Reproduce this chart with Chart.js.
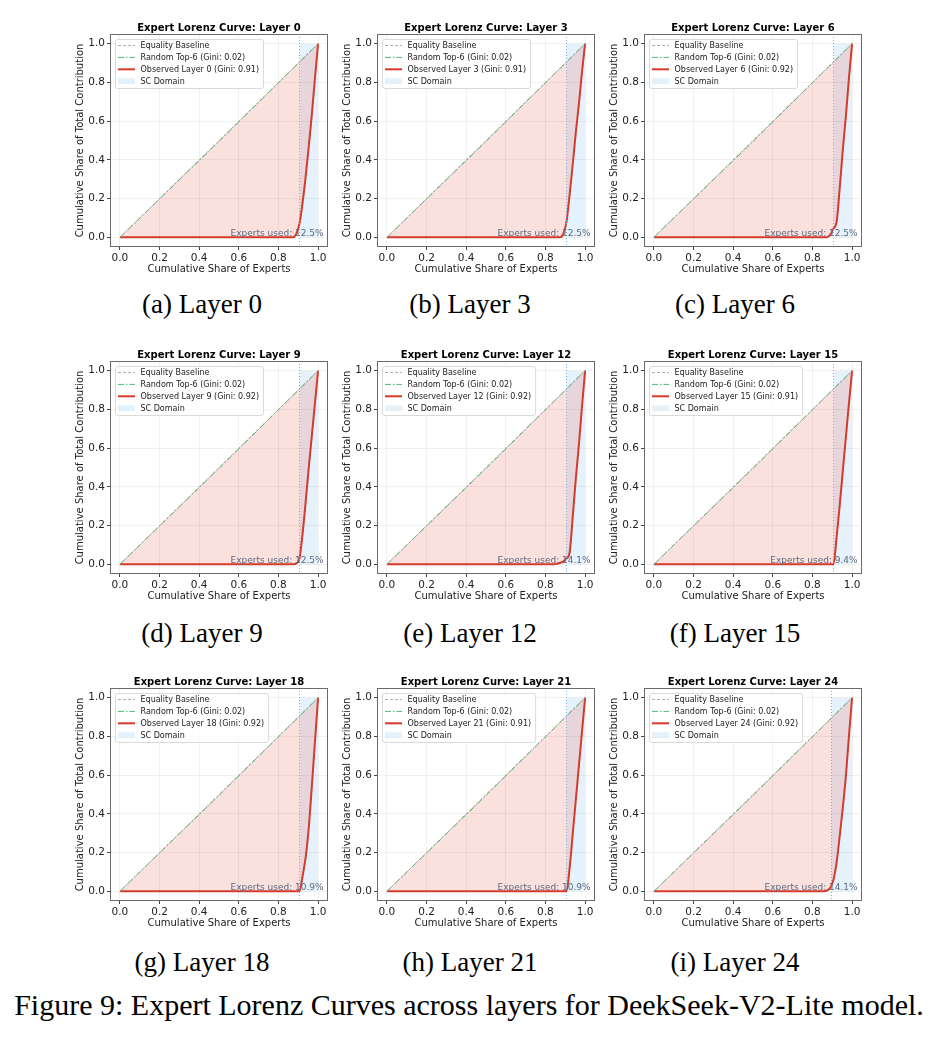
<!DOCTYPE html>
<html>
<head>
<meta charset="utf-8">
<script src="https://cdn.jsdelivr.net/npm/chart.js@4.4.0/dist/chart.umd.min.js"></script>
<style>
html,body{margin:0;padding:0;background:#fff;}
#page{position:relative;width:938px;height:1040px;overflow:hidden;background:#fff;}
.panel{position:absolute;}
.cap{position:absolute;font-family:"Liberation Serif","Times New Roman",serif;font-size:27px;color:#000;white-space:nowrap;transform:translate(-50%,-50%);line-height:1;}
#figcap{position:absolute;left:469px;top:1005px;transform:translate(-50%,-50%);font-family:"Liberation Serif","Times New Roman",serif;font-size:30px;color:#000;white-space:nowrap;line-height:1;}
</style>
</head>
<body>
<div id="page">
  <div id="figcap">Figure 9: Expert Lorenz Curves across layers for DeekSeek-V2-Lite model.</div>
</div>
<script>
// ---------------- DATA ----------------
const layerIds = [0, 3, 6, 9, 12, 15, 18, 21, 24];
const subLetters = ['(a)', '(b)', '(c)', '(d)', '(e)', '(f)', '(g)', '(h)', '(i)'];
const observedGini = [0.91, 0.91, 0.92, 0.92, 0.92, 0.91, 0.92, 0.91, 0.92];
const randomGini = 0.02;
const expertsUsedPct = ['12.5%', '12.5%', '12.5%', '12.5%', '14.1%', '9.4%', '10.9%', '10.9%', '14.1%'];
const scDomainStart = [0.906, 0.906, 0.906, 0.906, 0.906, 0.906, 0.906, 0.906, 0.895];

// cumulative share of experts (x) for the observed curves
const expertShare = [0, 0.844, 0.859, 0.875, 0.891, 0.906, 0.922, 0.938, 0.953, 0.969, 0.984, 1.0];
// cumulative share of total contribution (y) per layer
const layer0Share  = [0, 0, 0, 0, 0.02, 0.07, 0.18, 0.32, 0.47, 0.64, 0.82, 1];
const layer3Share  = [0, 0, 0, 0, 0.02, 0.08, 0.22, 0.38, 0.54, 0.69, 0.85, 1];
const layer6Share  = [0, 0, 0, 0, 0.015, 0.045, 0.08, 0.26, 0.45, 0.63, 0.82, 1];
const layer9Share  = [0, 0, 0, 0, 0.005, 0.03, 0.16, 0.33, 0.50, 0.67, 0.83, 1];
const layer12Share = [0, 0, 0.003, 0.008, 0.015, 0.03, 0.06, 0.25, 0.44, 0.62, 0.81, 1];
const layer15Share = [0, 0, 0, 0, 0, 0, 0.14, 0.31, 0.48, 0.66, 0.83, 1];
const layer18Share = [0, 0, 0, 0, 0, 0, 0.08, 0.18, 0.33, 0.55, 0.77, 1];
const layer21Share = [0, 0, 0, 0, 0, 0, 0.12, 0.30, 0.47, 0.65, 0.82, 1];
const layer24Share = [0, 0, 0, 0.005, 0.02, 0.06, 0.15, 0.29, 0.43, 0.60, 0.80, 1];
const observedShares = [layer0Share, layer3Share, layer6Share, layer9Share, layer12Share,
                        layer15Share, layer18Share, layer21Share, layer24Share];

const equalityX = [0, 1];
const equalityY = [0, 1];
const randomX = [0, 0.5, 1];
const randomY = [0, 0.495, 1];

const tickValues = [0, 0.2, 0.4, 0.6, 0.8, 1.0];

// ---------------- LAYOUT ----------------
const colBoxLeft = [110, 377, 644];
const rowTop = [0, 327, 654];
const capX = [202, 470, 735];
const capY = [304, 633, 962];
const AXIS_W = 36, AREA_W = 218, RIGHT_PAD = 4, CANVAS_H = 275;

const FONT = '"DejaVu Sans", Verdana, sans-serif';

const decorPlugin = {
  id: 'decor',
  afterDatasetsDraw(chart, args, opts) {
    const ctx = chart.ctx;
    const a = chart.chartArea;
    const xs = chart.scales.x;
    const w = a.right - a.left, h = a.bottom - a.top;
    ctx.save();
    // SC domain boundary (dotted)
    const px = Math.round(xs.getPixelForValue(opts.sc)) + 0.5;
    ctx.strokeStyle = '#6fb3e0';
    ctx.lineWidth = 1;
    ctx.setLineDash([1, 2]);
    ctx.beginPath(); ctx.moveTo(px, a.top); ctx.lineTo(px, a.bottom); ctx.stroke();
    ctx.setLineDash([]);
    // experts used text
    ctx.font = '9px ' + FONT;
    ctx.fillStyle = '#5a6a80';
    ctx.textAlign = 'right';
    ctx.textBaseline = 'alphabetic';
    ctx.fillText('Experts used: ' + opts.used, a.right - 0.02 * w, a.bottom - 11.5);
    // frame
    ctx.strokeStyle = '#6a6a6a';
    ctx.lineWidth = 1;
    ctx.strokeRect(Math.round(a.left) + 0.5, Math.round(a.top) + 0.5,
                   Math.round(w) - 1, Math.round(h) - 1);
    // legend
    const ds = chart.data.datasets.filter(d => !d.hideLegend);
    ctx.font = '8px ' + FONT;
    let maxW = 0;
    ds.forEach(d => { maxW = Math.max(maxW, ctx.measureText(d.label).width); });
    const bx = a.left + 5, by = a.top + 5;
    const hx = bx + 3, hl = 17, tx = hx + hl + 5.5;
    const bw = (tx - bx) + maxW + 4, bh = 49;
    ctx.beginPath();
    if (ctx.roundRect) ctx.roundRect(bx + 0.5, by + 0.5, bw, bh, 2.5); else ctx.rect(bx + 0.5, by + 0.5, bw, bh);
    ctx.fillStyle = 'rgba(255,255,255,0.8)';
    ctx.fill();
    ctx.strokeStyle = '#dadada';
    ctx.lineWidth = 1;
    ctx.stroke();
    ds.forEach((d, i) => {
      const ry = by + 6.5 + i * 11.9;
      if (d.legendPatch) {
        ctx.fillStyle = d.backgroundColor;
        ctx.fillRect(hx, ry - 3, hl, 6);
      } else {
        ctx.strokeStyle = d.borderColor;
        ctx.lineWidth = d.borderWidth;
        ctx.setLineDash(d.borderDash || []);
        ctx.beginPath(); ctx.moveTo(hx, ry); ctx.lineTo(hx + hl, ry); ctx.stroke();
        ctx.setLineDash([]);
      }
      ctx.fillStyle = '#222';
      ctx.textAlign = 'left';
      ctx.textBaseline = 'middle';
      ctx.fillText(d.label, tx, ry + 0.5);
    });
    ctx.restore();
  }
};

function toPoints(xArr, yArr) { return xArr.map((x, i) => ({x: x, y: yArr[i]})); }

const page = document.getElementById('page');

layerIds.forEach((layer, i) => {
  const row = Math.floor(i / 3), col = i % 3;
  const cv = document.createElement('canvas');
  const cw = AXIS_W + AREA_W + RIGHT_PAD;
  cv.width = cw; cv.height = CANVAS_H;
  cv.className = 'panel';
  cv.style.left = (colBoxLeft[col] - AXIS_W) + 'px';
  cv.style.top = rowTop[row] + 'px';
  cv.style.width = cw + 'px'; cv.style.height = CANVAS_H + 'px';
  page.appendChild(cv);

  const cap = document.createElement('div');
  cap.className = 'cap';
  cap.style.left = capX[col] + 'px';
  cap.style.top = capY[row] + 'px';
  cap.textContent = subLetters[i] + ' Layer ' + layer;
  page.appendChild(cap);

  const sc = scDomainStart[i];
  const datasets = [
    {
      label: 'Equality Baseline',
      data: toPoints(equalityX, equalityY),
      borderColor: 'rgba(150,150,150,0.75)', borderWidth: 1, borderDash: [3, 2],
      pointRadius: 0, fill: false
    },
    {
      label: 'Random Top-6 (Gini: ' + randomGini.toFixed(2) + ')',
      data: toPoints(randomX, randomY),
      borderColor: '#4cbb72', borderWidth: 1, borderDash: [6, 2, 1.5, 2],
      pointRadius: 0, fill: false
    },
    {
      label: 'Observed Layer ' + layer + ' (Gini: ' + observedGini[i].toFixed(2) + ')',
      data: toPoints(expertShare, observedShares[i]),
      borderColor: '#d63a2a', borderWidth: 2,
      backgroundColor: 'rgba(231,76,60,0.17)',
      fill: {target: 0},
      cubicInterpolationMode: 'monotone',
      pointRadius: 0
    },
    {
      label: 'SC Domain',
      data: [{x: sc, y: 1}, {x: 1, y: 1}],
      borderColor: 'rgba(0,0,0,0)', borderWidth: 0,
      backgroundColor: 'rgba(52,152,219,0.12)',
      fill: 'origin', pointRadius: 0, legendPatch: true
    }
  ];

  const axisCommon = {
    type: 'linear', min: -0.05, max: 1.05,
    afterBuildTicks: s => { s.ticks = tickValues.map(v => ({value: v})); },
    ticks: {
      font: {family: FONT, size: 10.5}, color: '#222', padding: 2,
      callback: v => v.toFixed(1), maxRotation: 0, autoSkip: false
    },
    grid: {color: 'rgba(200,200,200,0.25)', tickColor: '#444', tickLength: 3, lineWidth: 1, drawTicks: true},
    border: {display: false}
  };

  new Chart(cv, {
    type: 'line',
    data: {datasets: datasets},
    options: {
      responsive: false, animation: false, devicePixelRatio: 1,
      layout: {padding: {left: 0, right: RIGHT_PAD, top: 0, bottom: 0}},
      plugins: {
        legend: {display: false},
        tooltip: {enabled: false},
        title: {
          display: true, fullSize: false,
          text: 'Expert Lorenz Curve: Layer ' + layer,
          font: {family: FONT, size: 10, weight: 'bold', lineHeight: 1.1},
          color: '#000', padding: {top: 23, bottom: 0}
        },
        decor: {sc: sc, used: expertsUsedPct[i]}
      },
      scales: {
        x: Object.assign({}, axisCommon, {
          position: 'bottom',
          afterFit: s => { s.height = 28; },
          title: {display: true, text: 'Cumulative Share of Experts',
                  font: {family: FONT, size: 10, lineHeight: 1.2}, color: '#222', padding: 0}
        }),
        y: Object.assign({}, axisCommon, {
          position: 'left',
          afterFit: s => { s.width = AXIS_W; },
          title: {display: true, text: 'Cumulative Share of Total Contribution',
                  font: {family: FONT, size: 10, lineHeight: 1.2}, color: '#222', padding: 0}
        })
      }
    },
    plugins: [decorPlugin]
  });
});
</script>
</body>
</html>
